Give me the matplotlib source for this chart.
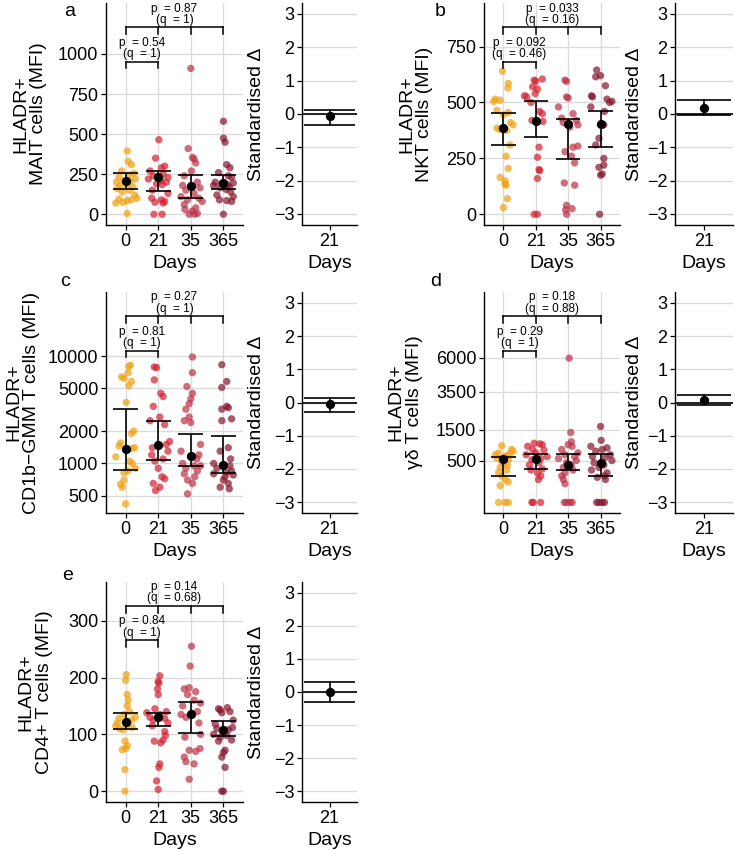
import numpy as np
import matplotlib
matplotlib.use("Agg")
from matplotlib import pyplot as plt
from matplotlib import transforms

plt.rcParams['font.family'] = ['Liberation Sans', 'DejaVu Sans']

days = ["0", "21", "35", "365"]
colours = ['#F0A010', '#D42030', '#BC3044', '#85142C']

# panel a: MAIT
mait_values = [
    [395, 330, 310, 270, 255, 245, 230, 220, 210, 205, 200, 190, 180, 170, 160, 150, 140, 120, 100, 95, 90, 85, 75, 70, 5],
    [465, 350, 300, 290, 270, 250, 240, 230, 220, 210, 200, 190, 185, 150, 130, 100, 90, 80, 75, 70, 0, 0],
    [910, 410, 355, 345, 320, 270, 240, 200, 180, 165, 150, 130, 110, 100, 90, 80, 60, 40, 30, 20, 5, 0, 0],
    [580, 475, 450, 310, 290, 260, 240, 230, 200, 195, 190, 185, 180, 170, 165, 155, 140, 120, 110, 90, 85, 80, 0],
]
mait_jitter = [
    [0.05, 0.08, 0.18, -0.12, 0.25, 0.1, -0.2, 0.3, -0.05, 0.15, -0.28, 0.02, -0.15, 0.22, -0.25, 0.12, -0.1, 0.28, 0.35, -0.2, 0.18, 0.05, -0.08, -0.3, 0.05],
    [0.02, -0.08, 0.2, 0.1, -0.25, 0.15, -0.15, 0.3, -0.3, 0.08, 0.25, -0.05, 0.12, -0.18, 0.3, -0.2, 0.1, 0.2, -0.1, 0.15, -0.13, 0.12],
    [0.0, -0.08, 0.05, 0.1, 0.15, 0.02, -0.2, 0.2, -0.25, 0.28, -0.15, 0.1, -0.3, 0.25, -0.1, 0.35, -0.2, 0.15, -0.18, 0.05, 0.2, -0.05, 0.12],
    [0.0, 0.0, 0.05, 0.1, 0.2, -0.15, 0.15, 0.25, -0.25, 0.3, -0.05, 0.12, -0.3, 0.18, -0.1, 0.08, 0.22, -0.2, 0.3, -0.12, 0.1, 0.25, 0.0],
]
mait_mid = [205, 235, 177, 192]
mait_lo = [158, 145, 104, 160]
mait_hi = [258, 272, 245, 247]
mait_delta = (-0.05, -0.33, 0.13)
mait_p = ["p  = 0.54\n(q  = 1)", "p  = 0.87\n(q  = 1)"]

# panel b: NKT
nkt_values = [
    [640, 585, 565, 515, 510, 505, 465, 455, 445, 410, 400, 385, 380, 375, 310, 260, 205, 165, 150, 135, 130, 70, 30],
    [605, 600, 595, 570, 560, 540, 530, 525, 500, 460, 450, 420, 415, 300, 255, 200, 195, 160, 0, 0],
    [600, 595, 525, 520, 480, 450, 430, 420, 410, 400, 390, 305, 300, 280, 260, 230, 140, 130, 40, 25, 20, 0],
    [645, 620, 615, 575, 530, 525, 515, 505, 500, 480, 460, 400, 340, 310, 250, 220, 210, 180, 175, 0],
]
nkt_jitter = [
    [-0.03, 0.15, 0.14, -0.25, -0.1, -0.3, -0.2, 0.15, 0.0, 0.22, 0.3, -0.2, -0.1, 0.1, 0.2, 0.08, 0.15, -0.1, 0.05, 0.05, 0.08, 0.12, 0.0],
    [0.2, -0.05, 0.0, -0.1, 0.05, -0.02, -0.35, -0.28, -0.15, 0.12, 0.2, -0.12, 0.22, 0.1, 0.05, 0.1, 0.12, 0.05, -0.05, 0.05],
    [-0.1, -0.05, -0.05, 0.0, -0.3, 0.15, -0.2, 0.25, -0.15, 0.3, 0.05, 0.3, 0.15, -0.1, 0.1, 0.2, -0.12, 0.2, -0.05, 0.12, -0.08, -0.05],
    [-0.12, 0.0, -0.15, 0.15, -0.28, -0.25, 0.2, 0.35, 0.28, -0.3, 0.12, 0.1, -0.05, -0.15, 0.1, 0.1, -0.05, 0.05, 0.0, -0.03],
]
nkt_mid = [384, 417, 402, 402]
nkt_lo = [310, 347, 247, 302]
nkt_hi = [455, 507, 426, 463]
nkt_delta = (0.17, -0.02, 0.42)
nkt_p = ["p  = 0.092\n(q  = 0.46)", "p  = 0.033\n(q  = 0.16)"]

# panel c: CD1b-GMM
gmm_values = [
    [8200, 8000, 7000, 6400, 6200, 5800, 5300, 3700, 2000, 1900, 1550, 1450, 1400, 1380, 1150, 1050, 1000, 900, 850, 820, 700, 640, 600, 420],
    [7900, 7800, 6000, 4500, 4200, 3400, 2700, 2500, 2300, 1600, 1500, 1400, 1300, 1200, 1100, 1050, 900, 750, 720, 650, 600, 560],
    [9800, 7000, 5200, 4500, 4000, 3600, 3200, 2700, 2500, 2400, 1500, 1300, 1200, 1100, 1000, 950, 950, 900, 850, 800, 750, 700, 650, 520],
    [8300, 5800, 5100, 3400, 3300, 3200, 2600, 2500, 1400, 1300, 1100, 1000, 950, 900, 850, 820, 800, 780, 750, 700, 650, 600, 580],
]
gmm_jitter = [
    [0.15, 0.1, 0.08, -0.12, -0.05, 0.18, 0.1, 0.02, 0.25, 0.18, -0.15, -0.2, 0.28, 0.2, -0.3, 0.12, 0.2, 0.3, 0.08, -0.05, -0.05, -0.15, -0.1, 0.0],
    [-0.12, -0.05, -0.12, 0.08, 0.15, -0.15, 0.05, -0.25, 0.2, 0.35, 0.25, -0.18, 0.3, -0.2, 0.15, -0.1, 0.0, 0.12, 0.2, -0.15, 0.05, -0.08],
    [0.05, 0.05, -0.12, 0.05, 0.0, -0.05, -0.15, -0.05, -0.2, 0.0, 0.3, -0.3, 0.25, 0.18, -0.25, 0.1, 0.3, -0.15, 0.2, -0.2, 0.12, -0.1, 0.05, -0.1],
    [-0.05, 0.1, -0.05, 0.1, 0.15, -0.05, 0.25, -0.05, 0.15, -0.1, 0.22, -0.3, 0.2, -0.2, 0.25, 0.1, -0.3, 0.3, 0.05, 0.0, 0.15, -0.1, 0.18],
]
gmm_mid = [1370, 1470, 1178, 963]
gmm_lo = [867, 1075, 950, 807]
gmm_hi = [3190, 2475, 1875, 1800]
gmm_delta = (-0.05, -0.3, 0.15)
gmm_p = ["p  = 0.81\n(q  = 1)", "p  = 0.27\n(q  = 1)"]

# panel d: gamma delta
gd_values = [
    [920, 800, 750, 700, 680, 650, 620, 600, 560, 520, 480, 430, 400, 350, 300, 260, 200, 150, 120, 80, 0, 0, 0],
    [1000, 980, 950, 900, 800, 780, 700, 650, 600, 550, 520, 450, 400, 320, 300, 250, 200, 150, 0, 0, 0],
    [5950, 1400, 1050, 950, 900, 800, 700, 650, 600, 550, 500, 450, 400, 350, 300, 250, 200, 150, 100, 0, 0, 0, 0],
    [1650, 1100, 900, 850, 800, 750, 650, 600, 580, 500, 450, 400, 350, 300, 250, 200, 180, 150, 0, 0, 0, 0],
]
gd_jitter = [
    [-0.05, 0.25, 0.3, -0.15, 0.2, -0.25, 0.1, 0.05, -0.2, 0.15, -0.05, 0.0, 0.12, -0.1, 0.1, -0.15, -0.05, 0.05, 0.15, -0.1, -0.15, 0.05, 0.15],
    [-0.05, 0.12, 0.2, -0.25, -0.1, 0.25, 0.0, -0.3, 0.35, 0.15, -0.12, 0.1, -0.2, 0.2, -0.15, 0.05, 0.15, 0.08, -0.12, -0.08, 0.15],
    [0.03, 0.08, 0.1, 0.0, 0.12, -0.2, 0.3, -0.1, 0.2, -0.3, 0.25, -0.05, 0.1, -0.15, 0.15, -0.1, -0.2, -0.15, -0.1, -0.12, -0.05, 0.05, 0.12],
    [0.0, 0.02, -0.3, 0.2, 0.05, -0.15, 0.3, -0.25, 0.15, 0.35, -0.2, 0.1, -0.05, -0.28, 0.2, 0.12, -0.1, 0.15, -0.12, -0.05, 0.05, 0.12],
]
gd_mid = [537, 537, 398, 450]
gd_lo = [198, 311, 293, 203]
gd_hi = [596, 659, 668, 668]
gd_delta = (0.08, -0.08, 0.24)
gd_p = ["p  = 0.29\n(q  = 1)", "p  = 0.18\n(q  = 0.88)"]

# panel e: CD4+
cd4_values = [
    [205, 195, 170, 160, 150, 140, 135, 130, 128, 125, 120, 118, 115, 112, 110, 108, 88, 80, 75, 73, 38, 0],
    [203, 193, 190, 180, 170, 145, 140, 138, 135, 130, 128, 125, 120, 115, 105, 98, 90, 88, 85, 48, 42, 18, 3],
    [255, 220, 182, 180, 175, 170, 160, 155, 150, 140, 135, 130, 120, 100, 95, 75, 72, 70, 60, 52, 48, 21],
    [147, 145, 143, 140, 138, 125, 118, 112, 110, 108, 105, 100, 98, 95, 90, 88, 72, 68, 60, 42, 0, 0],
]
cd4_jitter = [
    [0.02, 0.0, 0.05, 0.08, 0.05, 0.12, -0.05, 0.3, -0.2, 0.18, -0.25, 0.05, -0.3, 0.2, -0.18, -0.08, -0.02, 0.05, 0.0, -0.1, -0.02, -0.02],
    [0.05, 0.0, 0.02, -0.02, 0.0, -0.1, 0.25, -0.35, 0.05, -0.25, 0.2, -0.15, 0.3, -0.18, 0.2, 0.22, 0.15, -0.12, 0.08, 0.05, 0.02, -0.05, 0.0],
    [0.02, -0.02, -0.05, -0.2, 0.15, -0.1, 0.1, 0.3, -0.25, 0.2, -0.3, -0.15, 0.25, 0.3, -0.18, 0.28, -0.05, 0.15, -0.2, -0.15, 0.1, -0.05],
    [0.12, -0.15, -0.1, 0.2, -0.05, 0.3, -0.25, 0.28, -0.2, 0.15, 0.0, -0.3, 0.1, -0.1, 0.25, -0.15, 0.05, 0.0, -0.05, 0.05, -0.05, 0.0],
]
cd4_mid = [121, 130, 135, 107]
cd4_lo = [110, 114, 103, 97]
cd4_hi = [138, 138, 157, 123]
cd4_delta = (0.0, -0.3, 0.3)
cd4_p = ["p  = 0.84\n(q  = 1)", "p  = 0.14\n(q  = 0.68)"]

GRID = '#DCDCDC'
TICK_FS = 13
LABEL_FS = 14


def sqrt_fwd(v):
    v = np.asarray(v, dtype=float)
    return np.sign(v) * np.sqrt(np.abs(v))


def sqrt_inv(v):
    v = np.asarray(v, dtype=float)
    return np.sign(v) * v ** 2


def style_axes(ax):
    for s in ['top', 'right']:
        ax.spines[s].set_visible(False)
    for s in ['left', 'bottom']:
        ax.spines[s].set_linewidth(1.0)
    ax.tick_params(axis='both', length=3.5, width=0.9, labelsize=TICK_FS, pad=2, colors='black')
    ax.minorticks_off()
    ax.set_axisbelow(True)


def bracket(ax, x0, x1, y, text, ticks):
    tr = transforms.blended_transform_factory(ax.transData, ax.transAxes)
    ax.plot([x0, x1], [y, y], color='black', lw=1.1, transform=tr, clip_on=False)
    for xt in ticks:
        ax.plot([xt, xt], [y, y - 0.03], color='black', lw=1.1, transform=tr, clip_on=False)
    ax.text((x0 + x1) / 2, y + 0.008, text, transform=tr, ha='center', va='bottom',
            fontsize=8.5, linespacing=0.9)


def main_panel(ax, values, jitter, mid, lo, hi, ylabel, ylim, yticks, ptexts, scale=None):
    style_axes(ax)
    if scale == 'log':
        ax.set_yscale('log')
    elif scale == 'sqrt':
        ax.set_yscale('function', functions=(sqrt_fwd, sqrt_inv))
    for i, (vals, jit) in enumerate(zip(values, jitter)):
        x = i + 1 + np.array(jit)
        ax.scatter(x, vals, s=28, color=colours[i], alpha=0.7, edgecolors='none', zorder=2)
    pos = np.arange(1, 5)
    ax.errorbar(pos, mid, yerr=[np.array(mid) - np.array(lo), np.array(hi) - np.array(mid)],
                fmt='none', ecolor='black', elinewidth=1.2, capsize=0, zorder=3)
    ax.hlines(lo, pos - 0.38, pos + 0.38, color='black', lw=1.2, zorder=3)
    ax.hlines(hi, pos - 0.38, pos + 0.38, color='black', lw=1.2, zorder=3)
    ax.scatter(pos, mid, s=32, color='black', zorder=4)
    ax.set_xlim(0.4, 4.6)
    ax.set_ylim(*ylim)
    ax.set_xticks(pos)
    ax.set_xticklabels(days)
    ax.set_yticks(yticks)
    ax.set_yticklabels([str(t) for t in yticks])
    ax.minorticks_off()
    ax.grid(True, color=GRID, lw=1.0)
    ax.set_xlabel("Days", fontsize=LABEL_FS, labelpad=4)
    ax.set_ylabel(ylabel, fontsize=LABEL_FS, linespacing=1.08)
    bracket(ax, 1, 2, 0.735, ptexts[0], [1, 2])
    bracket(ax, 1, 4, 0.89, ptexts[1], [1, 2, 3, 4])


def delta_panel(ax, delta):
    style_axes(ax)
    ax.axhline(0, color='black', lw=1.2, zorder=2)
    m, lo, hi = delta
    ax.plot([1, 1], [lo, hi], color='black', lw=1.2, zorder=3)
    ax.hlines([lo, hi], 0.45, 1.55, color='black', lw=1.2, zorder=3)
    ax.scatter([1], [m], s=32, color='black', zorder=4)
    ax.set_xlim(0.4, 1.6)
    ax.set_ylim(-3.33, 3.33)
    ax.set_xticks([1])
    ax.set_xticklabels(["21"])
    ax.set_yticks([-3, -2, -1, 0, 1, 2, 3])
    ax.yaxis.grid(True, color=GRID, lw=1.0)
    ax.set_xlabel("Days", fontsize=LABEL_FS, labelpad=4)
    ax.set_ylabel("Standardised Δ", fontsize=LABEL_FS)


W, H = 735, 850
fig = plt.figure(figsize=(7.35, 8.5), dpi=100)


def add_ax(x0, top, x1, bottom):
    return fig.add_axes([x0 / W, 1 - bottom / H, (x1 - x0) / W, (bottom - top) / H])


ax_a = add_ax(106, 3, 243, 225)
ax_a2 = add_ax(302, 3, 357, 225)
ax_b = add_ax(484, 3, 620, 225)
ax_b2 = add_ax(675, 3, 733, 225)
ax_c = add_ax(106, 292, 243, 513)
ax_c2 = add_ax(302, 292, 357, 513)
ax_d = add_ax(484, 292, 620, 513)
ax_d2 = add_ax(675, 292, 733, 513)
ax_e = add_ax(106, 582, 243, 802)
ax_e2 = add_ax(302, 582, 357, 802)

main_panel(ax_a, mait_values, mait_jitter, mait_mid, mait_lo, mait_hi,
           "HLADR+\nMAIT cells (MFI)", (-67, 1318), [0, 250, 500, 750, 1000], mait_p)
main_panel(ax_b, nkt_values, nkt_jitter, nkt_mid, nkt_lo, nkt_hi,
           "HLADR+\nNKT cells (MFI)", (-48, 945), [0, 250, 500, 750], nkt_p)
main_panel(ax_c, gmm_values, gmm_jitter, gmm_mid, gmm_lo, gmm_hi,
           "HLADR+\nCD1b\u2212GMM T cells (MFI)", (345, 39500), [500, 1000, 2000, 5000, 10000], gmm_p, scale='log')
main_panel(ax_d, gd_values, gd_jitter, gd_mid, gd_lo, gd_hi,
           "HLADR+\n\u03b3\u03b4 T cells (MFI)", (-32, 12650), [500, 1500, 3500, 6000], gd_p, scale='sqrt')
main_panel(ax_e, cd4_values, cd4_jitter, cd4_mid, cd4_lo, cd4_hi,
           "HLADR+\nCD4+ T cells (MFI)", (-19, 368), [0, 100, 200, 300], cd4_p)

for ax, d in [(ax_a2, mait_delta), (ax_b2, nkt_delta), (ax_c2, gmm_delta),
              (ax_d2, gd_delta), (ax_e2, cd4_delta)]:
    delta_panel(ax, d)

# label coords mark the right edge of the rotated two-line labels
ax_a.yaxis.set_label_coords(-0.43, 0.5)
ax_b.yaxis.set_label_coords(-0.375, 0.5)
ax_c.yaxis.set_label_coords(-0.48, 0.5)
ax_d.yaxis.set_label_coords(-0.45, 0.5)
ax_e.yaxis.set_label_coords(-0.39, 0.5)
for ax in [ax_a2, ax_c2, ax_e2]:
    ax.yaxis.set_label_coords(-0.67, 0.5)
for ax in [ax_b2, ax_d2]:
    ax.yaxis.set_label_coords(-0.55, 0.5)

for lab, x, y in [("a", 70, 11), ("b", 440, 11), ("c", 65, 281), ("d", 436, 281), ("e", 68, 576)]:
    fig.text(x / W, 1 - y / H, lab, fontsize=14, ha='center', va='center')

fig.savefig("out.png", dpi=100)
